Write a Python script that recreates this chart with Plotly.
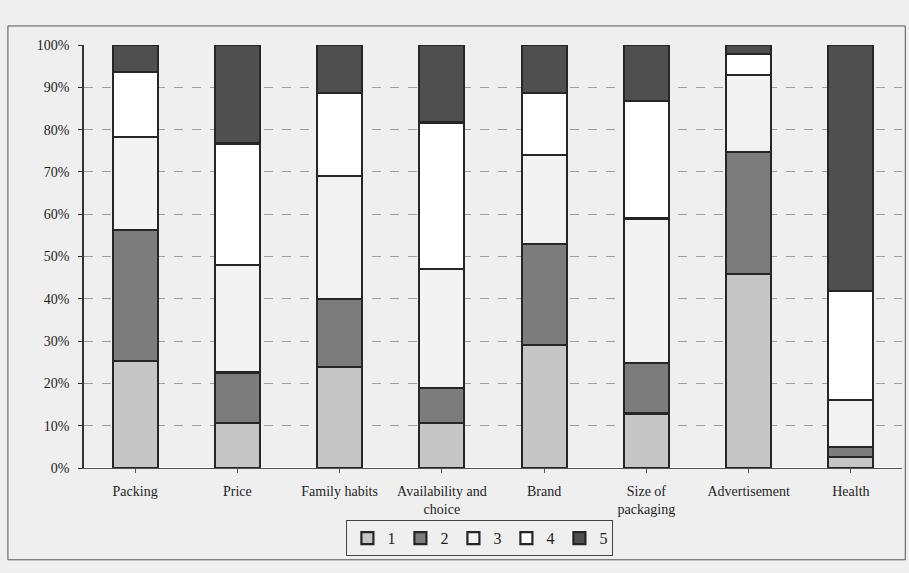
import plotly.graph_objects as go

categories = ["Packing", "Price", "Family habits", "Availability and<br>choice", "Brand",
              "Size of<br>packaging", "Advertisement", "Health"]
series_names = ["1", "2", "3", "4", "5"]
s1 = [25.3, 10.7, 23.8, 10.7, 29.0, 12.9, 45.9, 2.6]
s2 = [31.0, 11.9, 16.2, 8.3, 24.0, 11.9, 28.9, 2.3]
s3 = [22.0, 25.4, 29.0, 28.0, 21.0, 34.2, 18.2, 11.1]
s4 = [15.3, 28.7, 19.6, 34.7, 14.7, 27.8, 4.8, 25.8]
s5 = [6.4, 23.3, 11.4, 18.3, 11.3, 13.2, 2.2, 58.2]
series = [s1, s2, s3, s4, s5]
colors = ["#c6c6c6", "#7c7c7c", "#f3f3f3", "#ffffff", "#4f4f4f"]
y_ticks = [0, 10, 20, 30, 40, 50, 60, 70, 80, 90, 100]
y_labels = [f"{t}%" for t in y_ticks]

fig = go.Figure()
for name, vals, col in zip(series_names, series, colors):
    fig.add_trace(go.Bar(
        x=categories, y=vals, name=name,
        marker=dict(color=col, line=dict(color="#262626", width=2.2)),
        width=0.44,
    ))

font = "Liberation Serif, Times New Roman, serif"
fig.update_layout(
    barmode="stack",
    barnorm="percent",
    width=909, height=573,
    margin=dict(l=84, r=7, t=45, b=105),
    paper_bgcolor="#efefef",
    plot_bgcolor="#efefef",
    font=dict(family=font, size=14, color="#1e1e1e"),
    showlegend=True,
    legend=dict(orientation="h", x=0.484, y=-0.166, xanchor="center", yanchor="middle",
                bordercolor="#444", borderwidth=1, bgcolor="rgba(0,0,0,0)",
                font=dict(family=font, size=16, color="#1e1e1e"),
                itemwidth=30, traceorder="normal"),
    xaxis=dict(showline=True, linecolor="#555", linewidth=1, ticks="outside",
               tickcolor="#555", ticklen=4, showgrid=False, ticklabelstandoff=6,
               tickfont=dict(family=font, size=14, color="#1e1e1e")),
    yaxis=dict(range=[0, 100], tickvals=y_ticks, ticktext=y_labels,
               showline=True, linecolor="#333", linewidth=1.5, ticks="outside",
               tickcolor="#333", ticklen=4, ticklabelstandoff=6,
               showgrid=True, gridcolor="#a0a0a0", griddash="dash", gridwidth=1,
               tickfont=dict(family=font, size=14, color="#1e1e1e")),
    shapes=[dict(type="rect", xref="paper", yref="paper",
                 x0=-0.093, x1=1.004, y0=-0.217, y1=1.045,
                 line=dict(color="#555", width=1), fillcolor="rgba(0,0,0,0)")],
)
fig.write_html("out.html")
